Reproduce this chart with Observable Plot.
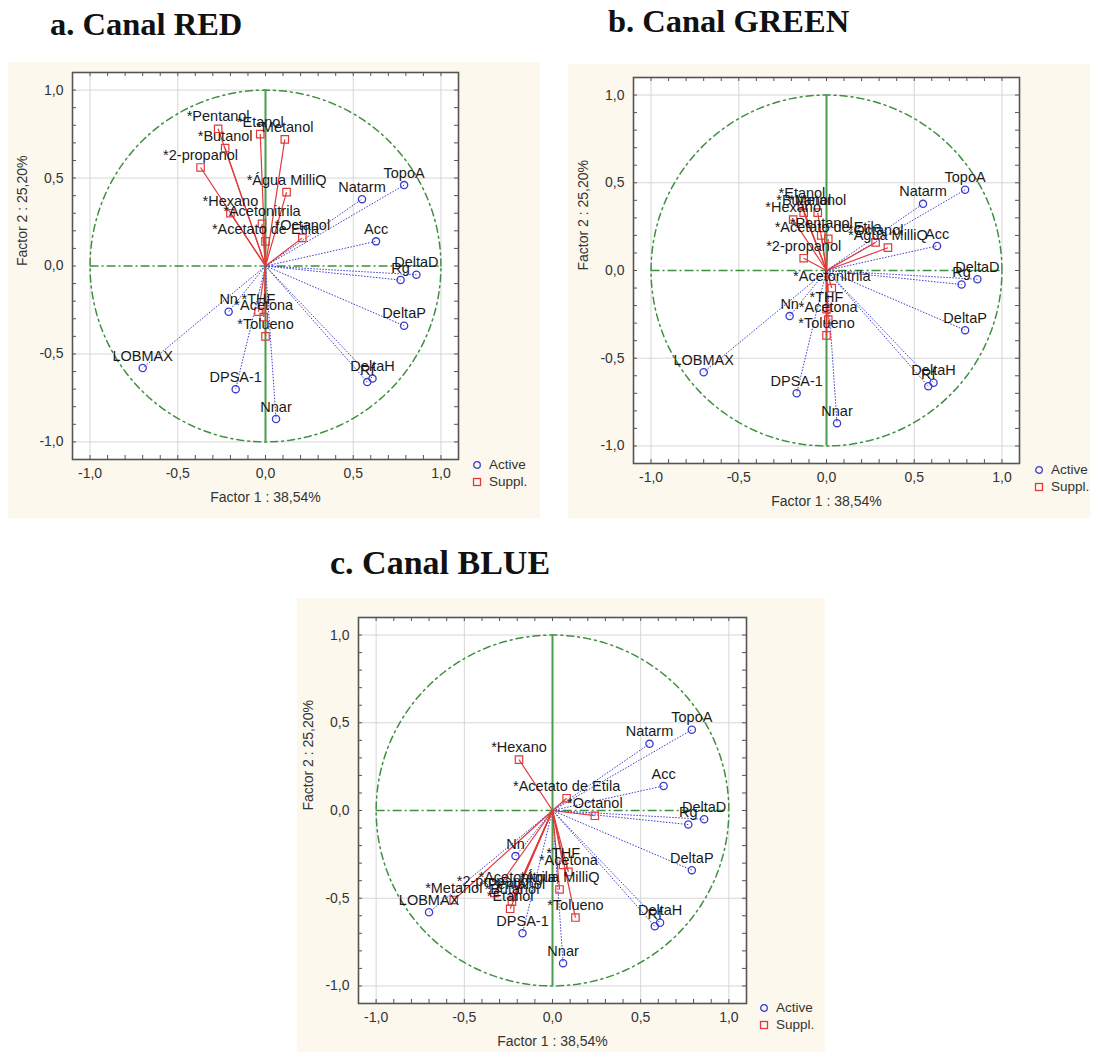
<!DOCTYPE html>
<html>
<head>
<meta charset="utf-8">
<script src="https://cdn.jsdelivr.net/npm/d3@7"></script>
<script src="https://cdn.jsdelivr.net/npm/@observablehq/plot@0.6"></script>
<style>
  html, body { margin: 0; padding: 0; background: #fff; }
  #page { position: relative; width: 1096px; height: 1052px; background: #fff; overflow: hidden; }
  .title { position: absolute; font-family: "Liberation Serif", "Times New Roman", serif; font-weight: bold; font-size: 32.5px; color: #111; white-space: nowrap; line-height: 1; }
  .panel { position: absolute; background: #fcf8ee; }
  .panel > svg.chart { position: absolute; left: 0; top: 0; }
  .legend { position: absolute; font-family: "Liberation Sans", Arial, sans-serif; font-size: 13.5px; color: #333; line-height: 17px; }
  .legend div { display: flex; align-items: center; white-space: nowrap; }
  .legend svg { display: block; margin-right: 7px; flex: none; }
</style>
</head>
<body>
<div id="page">
  <div class="title" style="left:50px; top:8px;">a. Canal RED</div>
  <div class="title" style="left:608px; top:5px;">b. Canal GREEN</div>
  <div class="title" style="left:330px; top:546px; font-size:34px;">c. Canal BLUE</div>
  <div class="panel" id="pa" style="left:8px; top:62px; width:532px; height:456px;"></div>
  <div class="panel" id="pb" style="left:568px; top:64px; width:522px; height:454px;"></div>
  <div class="panel" id="pc" style="left:297px; top:598px; width:528px; height:454px;"></div>
</div>
<script>
// ---------- data ----------
const activeNames = ["TopoA", "Natarm", "Acc", "DeltaD", "Rg", "DeltaP", "DeltaH", "Rf", "Nn", "LOBMAX", "DPSA-1", "Nnar"];
const activeX = [0.79, 0.55, 0.63, 0.86, 0.77, 0.79, 0.61, 0.58, -0.21, -0.70, -0.17, 0.06];
const activeY = [0.46, 0.38, 0.14, -0.05, -0.08, -0.34, -0.64, -0.66, -0.26, -0.58, -0.70, -0.87];

const supplNames = ["*Pentanol", "*Etanol", "*Metanol", "*Butanol", "*2-propanol", "*Água MilliQ", "*Hexano", "*Acetonitrila", "*Octanol", "*Acetato de Etila", "*THF", "*Acetona", "*Tolueno"];
// Canal RED
const redX = [-0.27, -0.03, 0.11, -0.23, -0.37, 0.12, -0.20, -0.02, 0.21, 0.00, -0.04, -0.01, 0.00];
const redY = [0.78, 0.75, 0.72, 0.67, 0.56, 0.42, 0.30, 0.24, 0.16, 0.14, -0.26, -0.29, -0.40];
// Canal GREEN
const greenX = [-0.03, -0.14, -0.05, -0.13, -0.13, 0.35, -0.19, 0.03, 0.28, 0.01, 0.00, 0.01, 0.00];
const greenY = [0.20, 0.37, 0.33, 0.33, 0.07, 0.13, 0.29, -0.10, 0.16, 0.18, -0.22, -0.28, -0.37];
// Canal BLUE
const blueX = [-0.22, -0.24, -0.56, -0.23, -0.33, 0.04, -0.19, -0.20, 0.24, 0.08, 0.06, 0.09, 0.13];
const blueY = [-0.49, -0.56, -0.51, -0.52, -0.47, -0.45, 0.29, -0.45, -0.03, 0.07, -0.31, -0.35, -0.61];

const axisTicks = [-1, -0.5, 0, 0.5, 1];
const minorTicks = [-1, -0.9, -0.8, -0.7, -0.6, -0.5, -0.4, -0.3, -0.2, -0.1, 0, 0.1, 0.2, 0.3, 0.4, 0.5, 0.6, 0.7, 0.8, 0.9, 1];
const xLabel = "Factor 1 : 38,54%";
const yLabel = "Factor 2 : 25,20%";
const legendItems = ["Active", "Suppl."];

// ---------- drawing ----------
const fmt = d3.formatLocale({decimal: ",", thousands: ".", grouping: [3], currency: ["", ""], minus: "-"}).format(".1f");
const BLUE = "#3b3bcf";
const RED = "#e03a3a";
const GREEN = "#3f8f3f";
const FONT = "'Liberation Sans', Arial, sans-serif";

const active = activeNames.map((name, i) => ({name, x: activeX[i], y: activeY[i]}));
const unitCircle = d3.range(0, 361, 2).map(a => ({x: Math.cos(a * Math.PI / 180), y: Math.sin(a * Math.PI / 180)}));

function panel(el, sx, sy, m, legendPos) {
  const W = el.clientWidth, H = el.clientHeight;
  const innerW = W - m.l - m.r, innerH = H - m.t - m.b;
  const suppl = supplNames.map((name, i) => ({name, x: sx[i], y: sy[i]}));
  const chart = Plot.plot({
    width: W, height: H,
    marginLeft: m.l, marginRight: m.r, marginTop: m.t, marginBottom: m.b,
    x: {domain: [-1.1, 1.1], axis: null},
    y: {domain: [-1.1, 1.1], axis: null},
    style: {background: "transparent", fontFamily: FONT, fontSize: "13.5px", overflow: "visible"},
    marks: [
      Plot.frame({fill: "white", stroke: "none"}),
      Plot.gridX([-1, -0.5, 0.5, 1], {stroke: "#d6d6d6", strokeOpacity: 1}),
      Plot.gridY([-1, -0.5, 0.5, 1], {stroke: "#d6d6d6", strokeOpacity: 1}),
      Plot.line(unitCircle, {x: "x", y: "y", stroke: GREEN, strokeWidth: 1.5, strokeDasharray: "7,4,2,4"}),
      Plot.ruleY([0], {x1: -1, x2: 1, stroke: GREEN, strokeWidth: 1.4, strokeDasharray: "9,3,2,3"}),
      Plot.ruleX([0], {y1: -1, y2: 1, stroke: "#4c9c4c", strokeWidth: 2}),
      Plot.link(active, {x1: 0, y1: 0, x2: "x", y2: "y", stroke: BLUE, strokeWidth: 1, strokeDasharray: "1.5,1.5"}),
      Plot.link(suppl, {x1: 0, y1: 0, x2: "x", y2: "y", stroke: RED, strokeWidth: 1.2}),
      Plot.dot(active, {x: "x", y: "y", symbol: "circle", r: 3.6, stroke: BLUE, strokeWidth: 1.3, fill: "none"}),
      Plot.dot(suppl, {x: "x", y: "y", symbol: "square", r: 4.2, stroke: RED, strokeWidth: 1.2, fill: "none"}),
      Plot.text(active, {x: "x", y: "y", text: "name", dy: -12, fontSize: 14.5, fill: "#1a1a1a"}),
      Plot.text(suppl, {x: "x", y: "y", text: "name", dy: -12, fontSize: 14.5, fill: "#1a1a1a"}),
      // inward minor ticks on all four sides
      Plot.tickX(minorTicks, {x: d => d, stroke: "#555", insetTop: innerH - 4}),
      Plot.tickX(minorTicks, {x: d => d, stroke: "#555", insetBottom: innerH - 4}),
      Plot.tickY(minorTicks, {y: d => d, stroke: "#555", insetRight: innerW - 4}),
      Plot.tickY(minorTicks, {y: d => d, stroke: "#555", insetLeft: innerW - 4}),
      Plot.frame({stroke: "#555", strokeWidth: 1.6}),
      Plot.axisX({ticks: axisTicks, tickFormat: fmt, tickSize: 0, tickPadding: 9, label: null, fontSize: 14, color: "#333"}),
      Plot.axisY({ticks: axisTicks, tickFormat: fmt, tickSize: 0, tickPadding: 9, label: null, fontSize: 14, color: "#333"}),
      Plot.text([xLabel], {frameAnchor: "bottom", text: d => d, dy: 42, fontSize: 14, fill: "#333"}),
      Plot.text([yLabel], {frameAnchor: "left", text: d => d, rotate: -90, dx: -50, fontSize: 14, fill: "#333"})
    ]
  });
  chart.classList.add("chart");
  el.appendChild(chart);

  // legend
  const lg = document.createElement("div");
  lg.className = "legend";
  lg.style.left = legendPos[0] + "px";
  lg.style.top = legendPos[1] + "px";
  lg.innerHTML =
    `<div><svg width="10" height="10"><circle cx="5" cy="5" r="3.3" fill="none" stroke="${BLUE}" stroke-width="1.3"/></svg>${legendItems[0]}</div>` +
    `<div><svg width="10" height="10"><rect x="1.5" y="1.5" width="7" height="7" fill="none" stroke="${RED}" stroke-width="1.3"/></svg>${legendItems[1]}</div>`;
  el.appendChild(lg);
}

panel(document.getElementById("pa"), redX, redY, {l: 64, r: 82, t: 10, b: 59}, [464, 394]);
panel(document.getElementById("pb"), greenX, greenY, {l: 65, r: 71, t: 13, b: 55}, [466, 397]);
panel(document.getElementById("pc"), blueX, blueY, {l: 61, r: 79, t: 19, b: 49}, [462, 401]);
</script>
</body>
</html>
